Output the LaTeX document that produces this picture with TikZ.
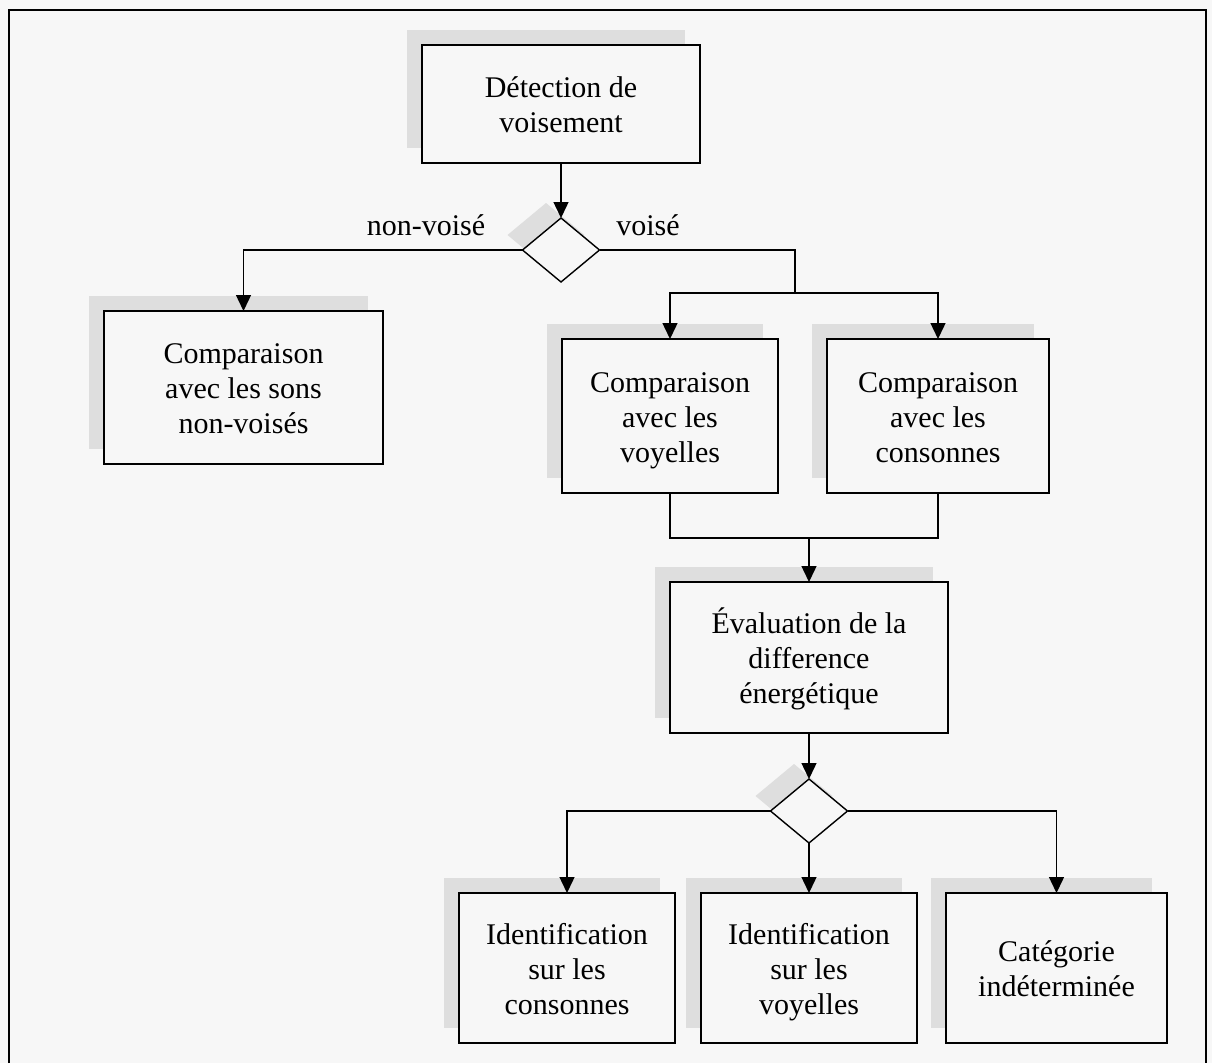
\documentclass[tikz,border=0pt]{standalone}
\usepackage{fontspec}
\setmainfont{Liberation Serif}
\usetikzlibrary{arrows.meta,shapes.geometric,shadows}
\definecolor{paper}{RGB}{247,247,247}
\definecolor{shade}{RGB}{222,222,222}
\newcommand{\topstrutx}{\rule{0pt}{30pt}}
\newcommand{\botstrutx}{\rule[-8pt]{0pt}{8pt}}
\begin{document}
\begin{tikzpicture}[x=1pt,y=-1pt,
  every node/.style={font=\fontsize{30}{35}\selectfont},
  boxshadow/.style={general shadow={fill=shade,draw=none,shadow xshift=-15pt,shadow yshift=15pt}},
  procbox/.style={draw,line width=1.4pt,fill=paper,rectangle,inner sep=0pt,outer sep=0pt,align=center,boxshadow},
  decision/.style={draw,line width=1.4pt,fill=paper,diamond,inner sep=0pt,outer sep=0pt,minimum width=77pt,minimum height=64pt,boxshadow},
  conn/.style={line width=1.4pt},
  arr/.style={conn,-{Triangle[length=16pt,width=15pt]}},
  lbl/.style={inner sep=0pt}
]
\useasboundingbox (0,0) rectangle (1212,1063);
\fill[paper] (0,0) rectangle (1212,1063);
\draw[line width=1.4pt] (9,1063) -- (9,10) -- (1206,10) -- (1206,1063);

\node[procbox,minimum width=278pt,minimum height=118pt] (b1) at (561,104) {\topstrutx Détection de\\voisement\botstrutx};
\node[decision] (d1) at (561,250) {};
\node[lbl] (lnv) at (426,225) {non-voisé};
\node[lbl] (lv) at (648,225) {voisé};
\node[procbox,minimum width=279pt,minimum height=153pt] (b2) at (243.5,387.5) {\topstrutx Comparaison\\avec les sons\\non-voisés\botstrutx};
\node[procbox,minimum width=216pt,minimum height=154pt] (b3) at (670,416) {\topstrutx Comparaison\\avec les\\voyelles\botstrutx};
\node[procbox,minimum width=222pt,minimum height=154pt] (b4) at (938,416) {\topstrutx Comparaison\\avec les\\consonnes\botstrutx};
\node[procbox,minimum width=278pt,minimum height=151pt] (b5) at (809,657.5) {\topstrutx Évaluation de la\\difference\\énergétique\botstrutx};
\node[decision] (d2) at (809,811) {};
\node[procbox,minimum width=216pt,minimum height=150pt] (b6) at (567,968) {\topstrutx Identification\\sur les\\consonnes\botstrutx};
\node[procbox,minimum width=216pt,minimum height=150pt] (b7) at (809,968) {\topstrutx Identification\\sur les\\voyelles\botstrutx};
\node[procbox,minimum width=221pt,minimum height=150pt] (b8) at (1056.5,968) {\topstrutx Catégorie\\indéterminée\botstrutx};

\coordinate (j1) at (795,293);
\coordinate (j2) at (809,538);

\draw[arr] (b1.south) -- (d1.north);
\draw[arr] (d1.west) -| (b2.north);
\draw[conn] (d1.east) -| (j1);
\draw[arr] (j1) -| (b3.north);
\draw[arr] (j1) -| (b4.north);
\draw[conn] (b3.south) |- (j2);
\draw[conn] (b4.south) |- (j2);
\draw[arr] (j2) -- (b5.north);
\draw[arr] (b5.south) -- (d2.north);
\draw[arr] (d2.west) -| (b6.north);
\draw[arr] (d2.south) -- (b7.north);
\draw[arr] (d2.east) -| (b8.north);
\end{tikzpicture}
\end{document}
